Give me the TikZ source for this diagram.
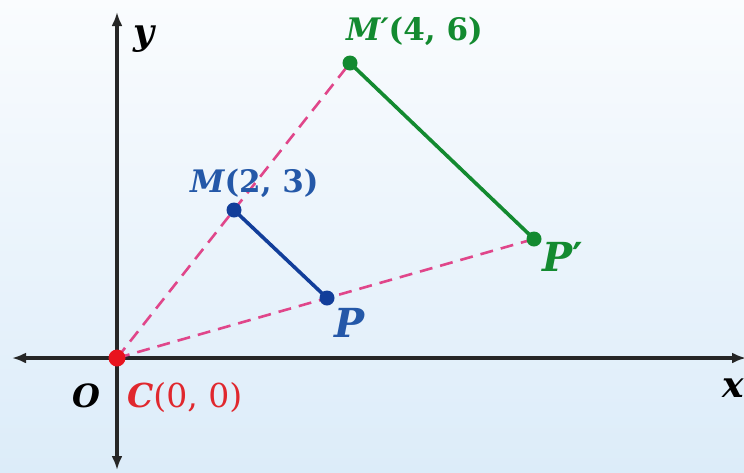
\documentclass[tikz,border=0pt]{standalone}
\usepackage{fontspec}
\setmainfont{DejaVu Serif}
\usetikzlibrary{arrows.meta}
\definecolor{axisc}{HTML}{262626}
\definecolor{bluec}{HTML}{123E9A}
\definecolor{bluelab}{HTML}{2458A8}
\definecolor{greenc}{HTML}{138A30}
\definecolor{redc}{HTML}{E8141E}
\definecolor{redlab}{HTML}{E0282E}
\definecolor{pinkc}{HTML}{E0468A}
\definecolor{bgtop}{HTML}{FAFCFE}
\definecolor{bgbot}{HTML}{DCECF9}
\newcommand{\lv}[1]{{\bfseries\itshape #1}}
\tikzset{
  axis/.style={draw=axisc, line width=3.6pt, -{Latex[length=14pt,width=11pt]}},
  dashline/.style={draw=pinkc, line width=2.6pt, dash pattern=on 13pt off 8pt},
  seg/.style={line width=3.6pt},
  dot/.style={circle, inner sep=0pt, minimum size=#1},
  lab/.style={font=\fontsize{31}{34}\selectfont\bfseries, inner sep=0pt},
  biglab/.style={font=\fontsize{40}{44}\selectfont\bfseries, inner sep=0pt},
  axlab/.style={font=\fontsize{36}{40}\selectfont\bfseries\itshape, inner sep=0pt},
}
\begin{document}
\begin{tikzpicture}[x=1pt,y=-1pt]
\useasboundingbox (0,0) rectangle (744,472);
\shade[top color=bgtop, bottom color=bgbot] (0,0) rectangle (744,472);
% points
\coordinate (O) at (117,358);
\coordinate (M) at (234,210);
\coordinate (P) at (327,298);
\coordinate (Mp) at (350,63);
\coordinate (Pp) at (534,239);
\coordinate (xl) at (12,358);
\coordinate (xr) at (746,358);
\coordinate (yt) at (117,12);
\coordinate (yb) at (117,470);
% axes
\draw[axis] (O) -- (xl);
\draw[axis] (O) -- (xr);
\draw[axis] (O) -- (yt);
\draw[axis] (O) -- (yb);
% dashed rays
\draw[dashline] (O) -- (Mp);
\draw[dashline] (O) -- (Pp);
% segments
\draw[seg, draw=bluec] (M) -- (P);
\draw[seg, draw=greenc] (Mp) -- (Pp);
% dots
\node[dot=17pt, fill=redc] (Cdot) at (O) {};
\node[dot=15pt, fill=bluec] (Mdot) at (M) {};
\node[dot=15pt, fill=bluec] (Pdot) at (P) {};
\node[dot=15pt, fill=greenc] (Mpdot) at (Mp) {};
\node[dot=15pt, fill=greenc] (Ppdot) at (Pp) {};
% labels
\node[axlab] (ylab) at (144,39) {y};
\node[axlab, anchor=base east] (xlab) at (744,397) {x};
\node[axlab, font=\fontsize{32}{36}\selectfont\bfseries\itshape, anchor=base west] (Olab) at (72,407) {O};
\node[lab, font=\fontsize{33}{36}\selectfont, text=redlab, anchor=base west] (Clab) at (127,407) {\lv{C}(0, 0)};
\node[lab, text=bluelab, anchor=base west] (Mlab) at (190,192) {\lv{M}(2, 3)};
\node[biglab, text=bluelab, anchor=base west] (Plab) at (334,337) {\lv{P}};
\node[lab, text=greenc, anchor=base west] (Mplab) at (346,40) {\lv{M}\lv{′}(4, 6)};
\node[biglab, text=greenc, anchor=base west] (Pplab) at (542,271) {\lv{P}′};
\end{tikzpicture}
\end{document}
